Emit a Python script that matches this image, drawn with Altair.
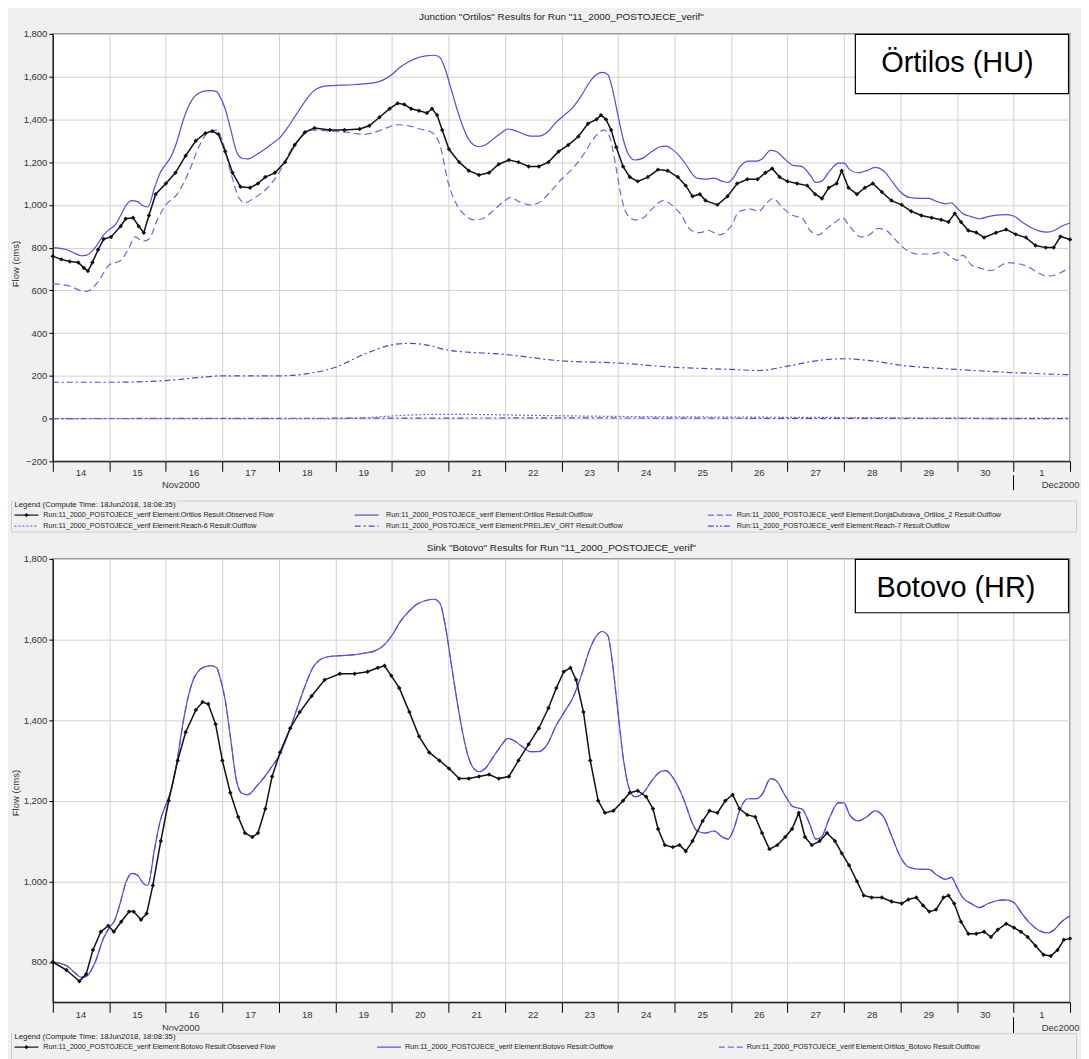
import altair as alt
import pandas as pd

TITLE_TOP = 'Junction "Ortilos" Results for Run "11_2000_POSTOJECE_verif"'
TITLE_BOT = 'Sink "Botovo" Results for Run "11_2000_POSTOJECE_verif"'
LEGEND_HEAD = "Legend (Compute Time: 18Jun2018, 18:08:35)"
BOX_TOP = "Örtilos (HU)"
BOX_BOT = "Botovo (HR)"
Y_LABEL = "Flow (cms)"
MONTHS = ["Nov2000", "Dec2000"]
DAY_LABELS = ["14", "15", "16", "17", "18", "19", "20", "21", "22", "23", "24", "25", "26", "27",
              "28", "29", "30", "1"]

LEG_TOP = [
    "Run:11_2000_POSTOJECE_verif Element:Ortilos Result:Observed Flow",
    "Run:11_2000_POSTOJECE_verif Element:Ortilos Result:Outflow",
    "Run:11_2000_POSTOJECE_verif Element:DonjaDubrava_Ortilos_2 Result:Outflow",
    "Run:11_2000_POSTOJECE_verif Element:Reach-6 Result:Outflow",
    "Run:11_2000_POSTOJECE_verif Element:PRELJEV_ORT Result:Outflow",
    "Run:11_2000_POSTOJECE_verif Element:Reach-7 Result:Outflow",
]
LEG_BOT = [
    "Run:11_2000_POSTOJECE_verif Element:Botovo Result:Observed Flow",
    "Run:11_2000_POSTOJECE_verif Element:Botovo Result:Outflow",
    "Run:11_2000_POSTOJECE_verif Element:Ortilos_Botovo Result:Outflow",
]

# time axis: days since 14 Nov 2000 00:00
# --- Ortilos / Botovo simulated outflow (blue solid)
out_t = [0.0, 0.1, 0.25, 0.4, 0.5, 0.6, 0.75, 0.9, 1.0, 1.1, 1.2, 1.3, 1.4, 1.5, 1.6, 1.68, 1.8, 1.9,
         2.0, 2.1, 2.2, 2.3, 2.4, 2.5, 2.6, 2.7, 2.8, 2.9, 2.95, 3.05, 3.15, 3.25, 3.35, 3.45, 3.6,
         3.75, 3.9, 4.0, 4.15, 4.3, 4.45, 4.6, 4.75, 4.9, 5.1, 5.3, 5.5, 5.7, 5.85, 6.0, 6.15, 6.3,
         6.45, 6.6, 6.75, 6.85, 6.95, 7.05, 7.15, 7.25, 7.35, 7.45, 7.55, 7.65, 7.8, 7.95, 8.05,
         8.15, 8.3, 8.45, 8.6, 8.75, 8.9, 9.05, 9.2, 9.35, 9.5, 9.6, 9.72, 9.82, 9.9, 10.0, 10.1,
         10.2, 10.3, 10.45, 10.6, 10.75, 10.85, 10.95, 11.1, 11.2, 11.3, 11.4, 11.55, 11.7, 11.85,
         11.95, 12.05, 12.15, 12.3, 12.45, 12.55, 12.7, 12.8, 12.95, 13.1, 13.25, 13.4, 13.5, 13.6,
         13.75, 13.9, 14.0, 14.1, 14.25, 14.4, 14.55, 14.7, 14.85, 15.0, 15.15, 15.35, 15.5, 15.65,
         15.8, 15.9, 16.0, 16.1, 16.25, 16.4, 16.55, 16.7, 16.85, 17.0, 17.15, 17.3, 17.45, 17.6,
         17.72, 17.85, 18.0]
out_q = [800, 798, 790, 772, 762, 765, 800, 860, 885, 905, 950, 1000, 1020, 1015, 995, 990, 1080, 1150,
         1190, 1230, 1300, 1390, 1460, 1505, 1525, 1533, 1535, 1530, 1510, 1450, 1350, 1250, 1218, 1215, 1235,
         1260, 1290, 1310, 1360, 1420, 1480, 1530, 1552, 1558, 1560, 1562, 1566, 1572, 1585, 1610, 1645, 1670,
         1688, 1697, 1700, 1690, 1630, 1540, 1450, 1370, 1310, 1280, 1272, 1280, 1310, 1340, 1355,
         1350, 1335, 1322, 1322, 1340, 1385, 1420, 1455, 1510, 1575, 1605, 1620, 1610, 1545, 1420, 1300,
         1230, 1210, 1220, 1250, 1272, 1275, 1262, 1225, 1190, 1150, 1125, 1120, 1125, 1110,
         1105, 1130, 1175, 1205, 1205, 1215, 1255, 1250, 1215, 1185, 1180, 1140, 1105, 1110,
         1160, 1195, 1195, 1165, 1150, 1160, 1175, 1160, 1110, 1060, 1035, 1030, 1030, 1015,
         1005, 1010, 985, 960, 945, 935, 945, 952, 954, 948, 920, 895, 878, 872,
         880, 900, 915]

# --- Ortilos observed flow
ort_obs_t = [0.0, 0.15, 0.3, 0.45, 0.55, 0.62, 0.7, 0.8, 0.9, 1.03, 1.2, 1.29, 1.42, 1.52, 1.61, 1.7,
             1.82, 2.0, 2.17, 2.35, 2.53, 2.7, 2.82, 2.93, 3.05, 3.18, 3.32, 3.49, 3.63, 3.76, 3.93,
             4.11, 4.28, 4.46, 4.63, 4.9, 5.16, 5.43, 5.6, 5.78, 5.96, 6.1, 6.22, 6.34, 6.48, 6.62,
             6.71, 6.8, 6.89, 7.01, 7.19, 7.36, 7.54, 7.72, 7.89, 8.07, 8.24, 8.42, 8.6, 8.77, 8.95,
             9.12, 9.3, 9.47, 9.62, 9.7, 9.79, 9.88, 9.97, 10.09, 10.21, 10.35, 10.53, 10.71, 10.88,
             11.06, 11.2, 11.32, 11.45, 11.55, 11.76, 11.94, 12.11, 12.29, 12.47, 12.61, 12.73, 12.86,
             13.0, 13.17, 13.35, 13.49, 13.61, 13.73, 13.87, 13.96, 14.08, 14.23, 14.37, 14.51, 14.67,
             14.84, 15.02, 15.19, 15.37, 15.55, 15.72, 15.85, 15.96, 16.07, 16.2, 16.34, 16.48, 16.69,
             16.87, 17.04, 17.22, 17.39, 17.57, 17.71, 17.83, 18.0]
ort_obs_q = [760, 745, 735, 730, 705, 690, 730, 790, 840, 850, 900, 935, 940, 900, 870, 950,
             1050, 1100, 1150, 1230, 1300, 1335, 1345, 1330, 1250, 1150, 1085, 1080, 1100, 1130, 1150,
             1200, 1280, 1340, 1360, 1350, 1350, 1355, 1370, 1410, 1450, 1475, 1470, 1450, 1440, 1430,
             1450, 1420, 1350, 1260, 1200, 1160, 1140, 1150, 1190, 1210, 1200, 1180, 1180, 1200, 1250,
             1280, 1320, 1380, 1400, 1420, 1400, 1350, 1270, 1180, 1130, 1110, 1130, 1165, 1160,
             1130, 1090, 1040, 1050, 1020, 1000, 1040, 1100, 1120, 1120, 1150, 1170, 1130,
             1110, 1100, 1090, 1050, 1030, 1080, 1100, 1160, 1080, 1050, 1080, 1100, 1060,
             1020, 1000, 970, 950, 940, 930, 920, 960, 920, 880, 871, 847, 870,
             885, 862, 847, 810, 800, 800, 852, 838]

# --- DonjaDubrava_Ortilos_2 outflow (dashed)
dd_t = [0, 0.3, 0.5, 0.6, 0.8, 1.0, 1.2, 1.35, 1.45, 1.6, 1.7, 1.85, 2.0, 2.2, 2.4, 2.6, 2.75, 2.9, 3.0,
        3.15, 3.3, 3.4, 3.55, 3.8, 4.0, 4.2, 4.4, 4.6, 4.9, 5.2, 5.5, 5.7, 5.9, 6.1, 6.3, 6.5, 6.7, 6.85,
        7.0, 7.15, 7.3, 7.45, 7.6, 7.8, 8.0, 8.1, 8.25, 8.45, 8.6, 8.8, 9.0, 9.2, 9.4, 9.6, 9.75, 9.85,
        9.95, 10.05, 10.15, 10.3, 10.45, 10.6, 10.8, 10.95, 11.1, 11.3, 11.45, 11.6, 11.8, 12.0, 12.15,
        12.35, 12.5, 12.6, 12.75, 12.9, 13.1, 13.25, 13.4, 13.55, 13.7, 13.85, 13.97, 14.1, 14.3, 14.45,
        14.6, 14.75, 14.9, 15.05, 15.3, 15.55, 15.75, 15.9, 16.0, 16.1, 16.25, 16.4, 16.6, 16.9, 17.2,
        17.6, 18.0]
dd_q = [630, 620, 598, 595, 640, 720, 740, 800, 850, 830, 840, 930, 1000, 1050, 1150, 1280, 1340, 1350, 1300,
        1150, 1030, 1010, 1030, 1080, 1150, 1250, 1320, 1350, 1345, 1340, 1330, 1340, 1360, 1375, 1370, 1355, 1340, 1280,
        1100, 1000, 950, 930, 935, 975, 1020, 1035, 1015, 1000, 1010, 1060, 1120, 1170, 1240, 1320, 1350, 1320,
        1200, 1050, 960, 930, 940, 980, 1020, 1000, 960, 880, 870, 880, 860, 900, 970,
        980, 970, 1000, 1030, 990, 950, 940, 880, 860, 890, 920, 940, 900, 850, 860,
        890, 880, 840, 800, 770, 770, 780, 755, 740, 765, 720, 705, 693, 730, 717,
        666, 707]

# --- Reach-7 outflow (dash-dot, ~200)
r7_t = [0, 1, 2, 2.5, 3, 4, 4.5, 5, 5.5, 6, 6.3, 6.6, 7, 8, 9, 10, 11, 12, 12.5, 13, 13.5, 14, 14.5, 15,
        16, 17, 18]
r7_q = [170, 170, 178, 190, 200, 200, 210, 240, 300, 345, 352, 345, 320, 300, 270, 260, 240, 230, 225, 245,
        270, 280, 270, 250, 230, 215, 205]

# --- Reach-6 outflow (dotted, ~0)
r6_t = [0, 5.0, 5.5, 6.0, 6.5, 7.0, 7.5, 8.5, 10, 12, 14, 16, 18]
r6_q = [0, 0, 3, 12, 18, 20, 19, 15, 10, 7, 5, 3, 2]

# --- PRELJEV_ORT outflow (~0)
pre_t = [0, 6, 9, 13, 18]
pre_q = [0, 2, 3, 1, 0]

# --- Botovo observed flow
bot_obs_t = [0.0, 0.24, 0.47, 0.59, 0.71, 0.85, 0.98, 1.08, 1.21, 1.35, 1.43, 1.56, 1.66, 1.77, 1.91, 2.05,
             2.21, 2.35, 2.53, 2.65, 2.75, 2.88, 3.0, 3.14, 3.28, 3.4, 3.53, 3.63, 3.76, 3.88, 4.02, 4.2,
             4.37, 4.58, 4.81, 5.08, 5.34, 5.57, 5.75, 5.87, 5.99, 6.13, 6.31, 6.48, 6.66, 6.84, 7.01,
             7.19, 7.36, 7.54, 7.72, 7.89, 8.07, 8.24, 8.42, 8.6, 8.77, 8.91, 9.04, 9.16, 9.26, 9.39,
             9.51, 9.65, 9.77, 9.92, 10.09, 10.21, 10.35, 10.5, 10.62, 10.71, 10.83, 10.97, 11.09, 11.2,
             11.32, 11.5, 11.62, 11.76, 11.9, 12.03, 12.15, 12.29, 12.43, 12.55, 12.68, 12.82, 12.96,
             13.08, 13.2, 13.31, 13.43, 13.57, 13.7, 13.84, 13.96, 14.09, 14.23, 14.35, 14.49, 14.67,
             14.84, 15.02, 15.14, 15.28, 15.4, 15.51, 15.63, 15.76, 15.85, 15.95, 16.07, 16.2, 16.34,
             16.48, 16.6, 16.72, 16.87, 17.01, 17.13, 17.25, 17.39, 17.53, 17.66, 17.78, 17.89, 18.0]
bot_obs_q = [800, 780, 752, 770, 830, 875, 890, 875, 900, 925, 925, 905, 920, 990, 1100, 1200,
             1300, 1370, 1425, 1445, 1440, 1390, 1300, 1220, 1160, 1120, 1110, 1120, 1180, 1260, 1320, 1380,
             1420, 1460, 1500, 1515, 1515, 1520, 1530, 1535, 1510, 1480, 1420, 1360, 1320, 1300, 1280,
             1255, 1255, 1260, 1265, 1255, 1260, 1300, 1340, 1380, 1430, 1480, 1520, 1530, 1500, 1420,
             1300, 1200, 1170, 1175, 1200, 1220, 1225, 1210, 1180, 1130, 1090, 1085, 1090, 1075,
             1100, 1150, 1175, 1170, 1200, 1215, 1180, 1165, 1160, 1120, 1080, 1090, 1110,
             1130, 1170, 1110, 1090, 1100, 1120, 1100, 1070, 1040, 1000, 965, 960, 960,
             950, 945, 955, 960, 940, 925, 930, 960, 965, 945, 900, 870, 870,
             875, 862, 880, 895, 885, 875, 862, 840, 818, 815, 830, 855, 858]

# ---------------------------------------------------------------- layout
W, H1, H2 = 1021, 429, 445
FONT = "Liberation Sans"
BLUE = "#4f4fe0"
BLUE2 = "#6a6ae6"
BLUE3 = "#4a4ad0"
GRID = "#d2d2d2"
BG = "#f0f0f0"
DAYPX = W / 18.0
LEG_FS = 7.2

one = pd.DataFrame({"k": [0]})
day_df = pd.DataFrame({"t": [i + 0.5 for i in range(len(DAY_LABELS))], "lab": DAY_LABELS})


def df(t, q):
    return pd.DataFrame({"t": t, "q": q})


def x_enc():
    return alt.X("t:Q", scale=alt.Scale(domain=[0, 18], nice=False, zero=False),
                 axis=alt.Axis(values=list(range(19)), labels=False,
                               tickSize=10, tickColor="#000", domainColor="#000", grid=True,
                               gridColor=GRID, title=None))


def y_enc(lo, hi, vals):
    return alt.Y("q:Q", scale=alt.Scale(domain=[lo, hi], nice=False, zero=False),
                 axis=alt.Axis(values=vals, format=",.0f", tickSize=4, tickColor="#000",
                               domainColor="#000", grid=True, gridColor=GRID, title=None,
                               labelFont=FONT, labelFontSize=9.5, labelColor="#333",
                               labelPadding=2))


def model_line(d, xe, ye, color, dash=None, width=1.2):
    kw = dict(color=color, strokeWidth=width, interpolate="monotone")
    if dash:
        kw["strokeDash"] = dash
    return alt.Chart(d).mark_line(**kw).encode(x=xe, y=ye)


def obs_line(d, xe, ye):
    return alt.Chart(d).mark_line(
        color="#111", strokeWidth=1.5,
        point=alt.OverlayMarkDef(shape="diamond", size=20, filled=True, color="#111")
    ).encode(x=xe, y=ye)


def day_labels(xe, y):
    return alt.Chart(day_df).mark_text(font=FONT, fontSize=9.5, color="#333", baseline="middle",
                                       align="center").encode(x=xe, y=alt.value(y), text="lab:N")


def text(s, x, y, size=LEG_FS, align="left", color="#222", angle=None, baseline="middle"):
    kw = dict(text=s, align=align, baseline=baseline, fontSize=size, font=FONT, color=color)
    if angle is not None:
        kw["angle"] = angle
    return alt.Chart(one).mark_text(**kw).encode(x=alt.value(x), y=alt.value(y))


def rect(x1, x2, y1, y2, fill="transparent", stroke=None, sw=1.0, opacity=1.0):
    kw = dict(fill=fill, opacity=opacity)
    if stroke:
        kw["stroke"] = stroke
        kw["strokeWidth"] = sw
    return alt.Chart(one).mark_rect(**kw).encode(
        x=alt.value(x1), x2=alt.value(x2), y=alt.value(y1), y2=alt.value(y2))


def hrule(x1, x2, y, color, dash=None, width=1.2):
    kw = dict(color=color, strokeWidth=width)
    if dash:
        kw["strokeDash"] = dash
    return alt.Chart(one).mark_rule(**kw).encode(x=alt.value(x1), x2=alt.value(x2), y=alt.value(y))


def vrule(x, y1, y2, color="#000", width=1.0):
    return alt.Chart(one).mark_rule(color=color, strokeWidth=width).encode(
        x=alt.value(x), y=alt.value(y1), y2=alt.value(y2))


def diamond(x, y):
    return alt.Chart(one).mark_point(shape="diamond", filled=True, size=18, color="#111",
                                     opacity=1).encode(x=alt.value(x), y=alt.value(y))


def legend_entry(x_sym, y, kind, label, x_txt):
    layers = []
    if kind == "obs":
        layers.append(hrule(x_sym, x_sym + 24, y, "#111", width=1.2))
        layers.append(diamond(x_sym + 12, y))
    elif kind == "solid":
        layers.append(hrule(x_sym, x_sym + 24, y, BLUE))
    elif kind == "dash":
        layers.append(hrule(x_sym, x_sym + 24, y, BLUE2, dash=[6, 3]))
    elif kind == "dot":
        layers.append(hrule(x_sym, x_sym + 24, y, BLUE2, dash=[2, 2]))
    elif kind == "dashdot":
        layers.append(hrule(x_sym, x_sym + 24, y, BLUE3, dash=[6, 3, 2, 3]))
    elif kind == "dashdotdot":
        layers.append(hrule(x_sym, x_sym + 24, y, BLUE3, dash=[6, 2, 2, 2, 2, 2]))
    layers.append(text(label, x_txt, y))
    return layers


# ---------------------------------------------------------------- top panel
xt = x_enc()
yt = y_enc(-200, 1800, list(range(-200, 1801, 200)))

top_layers = [
    rect(-43.5, W + 6.5, -23, 501, fill=BG, opacity=0),  # layout frame
    model_line(df(pre_t, pre_q), xt, yt, BLUE3, dash=[6, 3, 2, 3]),
    model_line(df(r6_t, r6_q), xt, yt, BLUE2, dash=[2, 2]),
    model_line(df(r7_t, r7_q), xt, yt, BLUE3, dash=[6, 3, 2, 3]),
    model_line(df(dd_t, dd_q), xt, yt, BLUE2, dash=[7, 4]),
    model_line(df(out_t, out_q), xt, yt, BLUE),
    obs_line(df(ort_obs_t, ort_obs_q), xt, yt),
    day_labels(xt, H1 + 12),
    text(TITLE_TOP, W / 2, -17, size=10, align="center", color="#222"),
    rect(805.5, 1019.5, 0.5, 60, fill="white", stroke="#000", sw=1.2),
    text(BOX_TOP, 908, 29.5, size=29, align="center", color="#000"),
    text(Y_LABEL, -37, 231, size=9.5, align="center", color="#333", angle=270),
    text(MONTHS[0], 128.5, H1 + 24, size=9.5, align="center", color="#333"),
    text(MONTHS[1], 1011.5, H1 + 24, size=9.5, align="center", color="#333"),
    vrule(17 * DAYPX, H1 + 14, H1 + 29),
    rect(-41.5, W + 6.5, 469, 500, fill="transparent", stroke="#cdcdcd", sw=1),
    rect(-40, 124, 466, 480, fill=BG),
    text(LEGEND_HEAD, -38.5, 473, size=7.8, color="#222"),
]
cols_top = [(-38.5, -9.5), (303, 334.5), (657.5, 686.5)]
kinds_top = ["obs", "solid", "dash", "dot", "dashdot", "dashdotdot"]
for i, (kind, lab) in enumerate(zip(kinds_top, LEG_TOP)):
    r, c = divmod(i, 3)
    top_layers += legend_entry(cols_top[c][0], 483 + 11 * r, kind, lab, cols_top[c][1])

top = alt.layer(*top_layers).properties(width=W, height=H1)

# ---------------------------------------------------------------- bottom panel
xb = x_enc()
yb = y_enc(700, 1800, list(range(800, 1801, 200)))

bot_layers = [
    rect(-43.5, W + 6.5, -23.5, H2 + 60, fill=BG, opacity=0),  # layout frame
    model_line(df(out_t, out_q), xb, yb, BLUE2, dash=[7, 4]),
    model_line(df(out_t, out_q), xb, yb, BLUE),
    obs_line(df(bot_obs_t, bot_obs_q), xb, yb),
    day_labels(xb, H2 + 12.5),
    text(TITLE_BOT, W / 2, -10.5, size=10, align="center", color="#222"),
    rect(805.5, 1019.5, 0.5, 54, fill="white", stroke="#000", sw=1.2),
    text(BOX_BOT, 906.5, 29.5, size=29, align="center", color="#000"),
    text(Y_LABEL, -37, 235, size=9.5, align="center", color="#333", angle=270),
    text(MONTHS[0], 128.5, H2 + 25.5, size=9.5, align="center", color="#333"),
    text(MONTHS[1], 1011.5, H2 + 25.5, size=9.5, align="center", color="#333"),
    vrule(17 * DAYPX, H2 + 15, H2 + 31),
    rect(-41.5, W + 6.5, 476.5, 520, fill="transparent", stroke="#cdcdcd", sw=1),
    rect(-40, 124, 473, 486, fill=BG),
    text(LEGEND_HEAD, -38.5, 480, size=7.8, color="#222"),
]
cols_bot = [(-38.5, -9.5), (325.5, 353.5), (668.5, 696.5)]
kinds_bot = ["obs", "solid", "dash"]
for i, (kind, lab) in enumerate(zip(kinds_bot, LEG_BOT)):
    bot_layers += legend_entry(cols_bot[i][0], 490, kind, lab, cols_bot[i][1])

bottom = alt.layer(*bot_layers).properties(width=W, height=H2)

chart = (
    alt.vconcat(top, bottom, spacing=0)
    .properties(padding=0, background=BG, autosize=alt.AutoSizeParams(type="pad"))
    .configure_view(fill="white", stroke="#7a7a7a", strokeWidth=1.5)
)

chart.save("out.html", embed_options={"renderer": "svg", "actions": False})
